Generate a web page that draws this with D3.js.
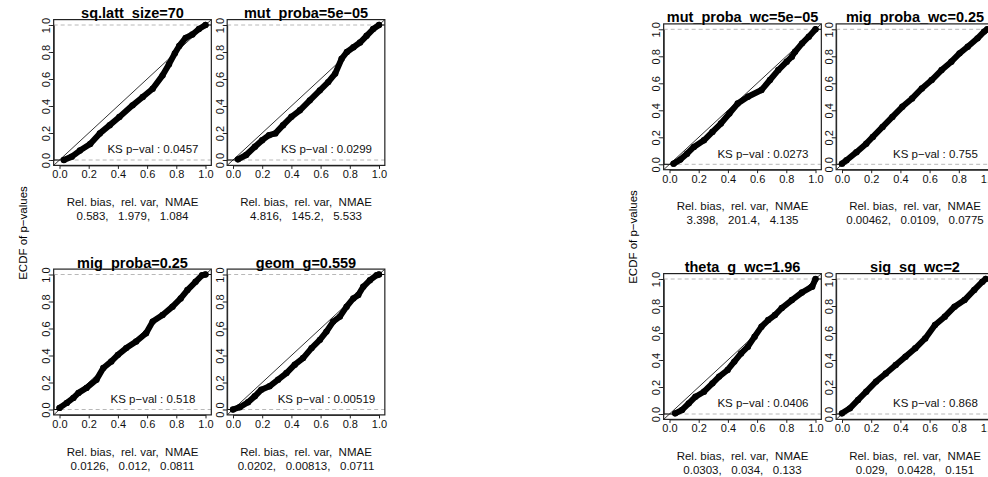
<!DOCTYPE html>
<html>
<head>
<meta charset="utf-8">
<script src="https://cdn.jsdelivr.net/npm/d3@7"></script>
<style>
  body { margin: 0; background: #fff; }
  svg { display: block; font-family: "Liberation Sans", Arial, Helvetica, sans-serif; }
</style>
</head>
<body>
<svg id="chart" width="988" height="477"></svg>
<script>
// panel titles, left group first then right group
const titles = ["sq.latt_size=70", "mut_proba=5e\u221205", "mig_proba=0.25", "geom_g=0.559",
                "mut_proba_wc=5e\u221205", "mig_proba_wc=0.25", "theta_g_wc=1.96", "sig_sq_wc=2"];
const ksVals = ["0.0457", "0.0299", "0.518", "0.00519", "0.0273", "0.755", "0.0406", "0.868"];
const relBias = ["0.583", "4.816", "0.0126", "0.0202", "3.398", "0.00462", "0.0303", "0.029"];
const relVar = ["1.979", "145.2", "0.012", "0.00813", "201.4", "0.0109", "0.034", "0.0428"];
const nmae = ["1.084", "5.533", "0.0811", "0.0711", "4.135", "0.0775", "0.133", "0.151"];
const tickVals = [0, 0.2, 0.4, 0.6, 0.8, 1.0];

// ECDF of p-values: [p-value, ecdf]
const ecdfLatt = [[0.03,0],[0.084,0.025],[0.14,0.07],[0.21,0.118],[0.276,0.197],[0.344,0.258],[0.41,0.319],
  [0.5,0.405],[0.57,0.467],[0.638,0.528],[0.706,0.627],[0.75,0.71],[0.79,0.79],[0.82,0.845],[0.864,0.905],[0.91,0.93],[0.955,0.97],[1,1]];
const ecdfMut = [[0.034,0.005],[0.09,0.037],[0.15,0.098],[0.2,0.147],[0.247,0.184],[0.29,0.197],[0.343,0.258],
  [0.4,0.32],[0.458,0.368],[0.526,0.442],[0.595,0.516],[0.652,0.577],[0.7,0.64],[0.744,0.75],[0.78,0.8],[0.825,0.835],
  [0.87,0.87],[0.915,0.92],[0.96,0.97],[1,1]];
const ecdfMig = [[0,0.012],[0.05,0.049],[0.095,0.086],[0.13,0.123],[0.185,0.16],[0.253,0.22],[0.3,0.307],[0.355,0.356],
  [0.4,0.405],[0.457,0.455],[0.525,0.504],[0.593,0.565],[0.638,0.651],[0.706,0.7],[0.774,0.762],[0.83,0.823],
  [0.876,0.885],[0.932,0.946],[0.977,0.995],[1,1]];
const ecdfGeom = [[0,0],[0.046,0.017],[0.103,0.054],[0.149,0.098],[0.194,0.147],[0.25,0.172],[0.309,0.221],[0.366,0.27],
  [0.423,0.332],[0.48,0.381],[0.538,0.455],[0.595,0.516],[0.64,0.577],[0.686,0.651],[0.732,0.688],[0.778,0.762],
  [0.824,0.823],[0.858,0.848],[0.892,0.909],[0.938,0.958],[0.984,0.995],[1,1]];
const ecdfMutWc = [[0.028,0.005],[0.074,0.035],[0.12,0.079],[0.167,0.129],[0.236,0.178],[0.294,0.24],[0.352,0.302],
  [0.41,0.376],[0.467,0.45],[0.537,0.5],[0.63,0.55],[0.688,0.624],[0.745,0.698],[0.803,0.76],[0.838,0.797],
  [0.86,0.834],[0.908,0.896],[0.954,0.945],[1,1]];
const ecdfMigWc = [[0,0.005],[0.031,0.03],[0.099,0.09],[0.166,0.153],[0.211,0.203],[0.278,0.277],[0.345,0.351],
  [0.413,0.426],[0.48,0.488],[0.547,0.562],[0.614,0.624],[0.682,0.698],[0.749,0.76],[0.805,0.822],[0.861,0.871],
  [0.928,0.933],[0.973,0.983],[0.995,1]];
const ecdfTheta = [[0.039,0.005],[0.086,0.03],[0.132,0.079],[0.178,0.128],[0.236,0.165],[0.294,0.227],[0.34,0.277],
  [0.398,0.326],[0.444,0.388],[0.49,0.449],[0.537,0.499],[0.583,0.573],[0.63,0.647],[0.676,0.696],[0.722,0.733],
  [0.769,0.785],[0.838,0.844],[0.907,0.9],[0.977,0.943],[1,1]];
const ecdfSig = [[0,0.005],[0.054,0.042],[0.11,0.104],[0.166,0.165],[0.233,0.24],[0.3,0.3],[0.368,0.363],[0.435,0.425],
  [0.502,0.487],[0.57,0.56],[0.637,0.659],[0.704,0.721],[0.771,0.795],[0.839,0.844],[0.906,0.919],[0.962,0.98],[0.984,1]];

const curves = [ecdfLatt, ecdfMut, ecdfMig, ecdfGeom, ecdfMutWc, ecdfMigWc, ecdfTheta, ecdfSig];

// layout: pixel of (x=0, y=1) for every panel
const PW = 146, PH = 135;
const origins = [[59.5,25],[233,25],[59.5,274.5],[233,274.5],[669.5,29.3],[842,29.3],[669.5,279],[842,279]];
const ylabPos = [[22.5,233],[632.5,237]];

var svg = d3.select("#chart");
var defs = svg.append("defs");

// outer y labels, one per group
ylabPos.forEach(function (p) {
  svg.append("text")
    .attr("transform", "translate(" + p[0] + "," + p[1] + ") rotate(-90)")
    .attr("text-anchor", "middle")
    .attr("dominant-baseline", "central")
    .style("font-size", "11.5px")
    .text("ECDF of p\u2212values");
});

curves.forEach(function (pts, i) {
  var ox = origins[i][0], oy = origins[i][1];
  var x = d3.scaleLinear().domain([0, 1]).range([ox, ox + PW]);
  var y = d3.scaleLinear().domain([0, 1]).range([oy + PH, oy]);
  var lo = -0.04, hi = 1.04;
  var g = svg.append("g");

  // clip to the plot box
  defs.append("clipPath").attr("id", "clip" + i)
    .append("rect")
    .attr("x", x(lo)).attr("y", y(hi))
    .attr("width", x(hi) - x(lo)).attr("height", y(lo) - y(hi));
  var inner = g.append("g").attr("clip-path", "url(#clip" + i + ")");

  // dashed reference lines at 0 and 1
  inner.selectAll("line.ref")
    .data([0, 1])
    .join("line")
    .attr("class", "ref")
    .attr("x1", x(lo)).attr("x2", x(hi))
    .attr("y1", d => y(d)).attr("y2", d => y(d))
    .attr("stroke", "#b8b8b8")
    .attr("stroke-width", 1)
    .attr("stroke-dasharray", "4,3");

  // uniform diagonal
  inner.append("line")
    .attr("x1", x(lo)).attr("y1", y(lo))
    .attr("x2", x(hi)).attr("y2", y(hi))
    .attr("stroke", "#000")
    .attr("stroke-width", 0.8);

  // ecdf tails
  inner.append("line")
    .attr("x1", x(lo)).attr("x2", x(pts[0][0]))
    .attr("y1", y(0)).attr("y2", y(0))
    .attr("stroke", "#000").attr("stroke-width", 1);
  inner.append("line")
    .attr("x1", x(pts[pts.length - 1][0])).attr("x2", x(hi))
    .attr("y1", y(1)).attr("y2", y(1))
    .attr("stroke", "#000").attr("stroke-width", 1);

  // thick ecdf
  inner.append("path")
    .datum(pts)
    .attr("d", d3.line().x(d => x(d[0])).y(d => y(d[1])))
    .attr("fill", "none")
    .attr("stroke", "#000")
    .attr("stroke-width", 6)
    .attr("stroke-linejoin", "round")
    .attr("stroke-linecap", "round");
  inner.selectAll("circle")
    .data(pts)
    .join("circle")
    .attr("cx", d => x(d[0]))
    .attr("cy", d => y(d[1]))
    .attr("r", 3.2)
    .attr("fill", "#000");

  // box
  g.append("rect")
    .attr("x", x(lo)).attr("y", y(hi))
    .attr("width", x(hi) - x(lo)).attr("height", y(lo) - y(hi))
    .attr("fill", "none")
    .attr("stroke", "#222")
    .attr("stroke-width", 1.2);

  // x axis
  var xa = g.append("g")
    .attr("transform", "translate(0," + y(lo) + ")")
    .call(d3.axisBottom(x).tickValues(tickVals).tickFormat(d3.format(".1f")).tickSize(3.5).tickSizeOuter(0));
  xa.select(".domain").attr("stroke", "#222");
  xa.selectAll("text")
    .attr("y", 9).attr("dy", null)
    .attr("dominant-baseline", "central")
    .attr("fill", "#111")
    .style("font-size", "11px");

  // y axis, labels parallel to the axis
  var ya = g.append("g")
    .attr("transform", "translate(" + x(lo) + ",0)")
    .call(d3.axisLeft(y).tickValues(tickVals).tickFormat(d3.format(".1f")).tickSize(3.5).tickSizeOuter(0));
  ya.select(".domain").attr("stroke", "#222");
  ya.selectAll("text")
    .attr("x", null).attr("dy", null)
    .attr("transform", "translate(-7.5,0) rotate(-90)")
    .attr("text-anchor", "middle")
    .attr("dominant-baseline", "central")
    .attr("fill", "#111")
    .style("font-size", "11px");
  g.selectAll(".tick line").attr("stroke", "#222");

  var cx = (x(lo) + x(hi)) / 2;

  // title
  g.append("text")
    .attr("x", cx).attr("y", y(1) - 12)
    .attr("text-anchor", "middle")
    .attr("dominant-baseline", "central")
    .style("font-size", "14.5px")
    .style("font-weight", "bold")
    .text(titles[i]);

  // KS label
  g.append("text")
    .attr("x", x(0.64)).attr("y", y(0.08))
    .attr("text-anchor", "middle")
    .attr("dominant-baseline", "central")
    .style("font-size", "11.5px")
    .attr("fill", "#111")
    .text("KS p\u2212val : " + ksVals[i]);

  // error summary under the panel
  g.append("text")
    .attr("x", cx).attr("y", y(0) + 42)
    .attr("text-anchor", "middle")
    .attr("dominant-baseline", "central")
    .style("font-size", "11.5px")
    .style("white-space", "pre")
    .attr("fill", "#111")
    .text("Rel. bias,  rel. var,  NMAE");
  g.append("text")
    .attr("x", cx).attr("y", y(0) + 56)
    .attr("text-anchor", "middle")
    .attr("dominant-baseline", "central")
    .style("font-size", "11.5px")
    .style("white-space", "pre")
    .attr("fill", "#111")
    .text(relBias[i] + ",   " + relVar[i] + ",   " + nmae[i]);
});
</script>
</body>
</html>
